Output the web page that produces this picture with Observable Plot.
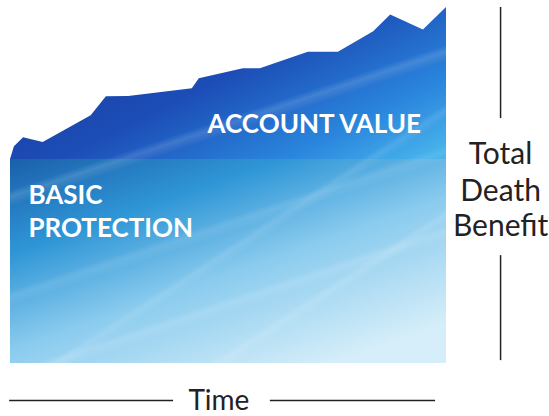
<!DOCTYPE html>
<html>
<head>
<meta charset="utf-8">
<script src="https://cdn.jsdelivr.net/npm/d3@7"></script>
<script src="https://cdn.jsdelivr.net/npm/@observablehq/plot@0.6"></script>
<style>
  html, body { margin: 0; padding: 0; background: #fff; }
  #chart { width: 549px; height: 416px; }
</style>
</head>
<body>
<div id="chart"></div>
<script>
// Time axis (0–100 %) and account value (% of max total death benefit)
const timePoints = [0, 0.9, 3.0, 7.5, 18.5, 22.0, 27.1, 41.7, 43.3, 53.4, 57.3, 68.3, 75.2, 83.3, 87.2, 94.7, 100];
const accountValue = [57.3, 60.9, 63.4, 62.1, 69.6, 74.9, 75.0, 77.2, 80.0, 82.8, 82.8, 87.4, 87.4, 93.2, 97.9, 93.7, 100];
const basicProtection = 57.3;

const areaLabels = ["ACCOUNT VALUE"];
const basicLabels = ["BASIC", "PROTECTION"];
const sideLabels = ["Total", "Death", "Benefit"];
const timeLabel = ["Time"];

const rows = timePoints.map((t, i) => ({t, base: basicProtection, av: accountValue[i]}));

const W = 549, H = 416;
const chart = Plot.plot({
  width: W, height: H,
  marginLeft: 10, marginRight: 103, marginTop: 7, marginBottom: 53,
  x: {domain: [0, 100], axis: null},
  y: {domain: [0, 100], axis: null},
  style: {background: "#fff", overflow: "visible"},
  marks: [
    Plot.areaY(rows, {x: "t", y1: 0, y2: "base", fill: "url(#gBasic)"}),
    Plot.areaY(rows, {x: "t", y1: "base", y2: "av", fill: "url(#gAV)"}),
    Plot.areaY(rows, {x: "t", y1: 0, y2: "av", fill: "url(#gStreak)"}),
    Plot.areaY(rows, {x: "t", y1: 0, y2: "av", fill: "url(#gStreak2)"}),
    Plot.text(areaLabels, {x: 45.2, y: 64.8, text: d => d, textAnchor: "start", lineAnchor: "bottom",
      fill: "#fff", fontSize: 26, fontWeight: 700, fontFamily: "Lato"}),
    Plot.text(basicLabels, {x: 4.1, y: (d, i) => [44.9, 35.4][i], text: d => d, textAnchor: "start", lineAnchor: "bottom",
      fill: "#fff", fontSize: 26, fontWeight: 700, fontFamily: "Lato"}),
    Plot.text(sideLabels, {x: 112.4, y: (d, i) => [56.1, 45.7, 35.9][i], text: d => d, textAnchor: "middle", lineAnchor: "bottom",
      fill: "#222", fontSize: 30, fontWeight: 400, fontFamily: "Lato"}),
    Plot.ruleX([112.4], {y1: 68.8, y2: 100, stroke: "#222", strokeWidth: 1.5}),
    Plot.ruleX([112.4], {y1: 0.8, y2: 30.3, stroke: "#222", strokeWidth: 1.5}),
    Plot.text(timeLabel, {x: 47.8, y: -13.2, text: d => d, textAnchor: "middle", lineAnchor: "bottom",
      fill: "#222", fontSize: 28, fontWeight: 400, fontFamily: "Lato"}),
    Plot.ruleY([-10.4], {x1: -0.2, x2: 37.4, stroke: "#222", strokeWidth: 1.5}),
    Plot.ruleY([-10.4], {x1: 59.6, x2: 97.5, stroke: "#222", strokeWidth: 1.5})
  ]
});

const svg = d3.select(chart);
const defs = svg.insert("defs", ":first-child");
function grad(id, attrs, stops) {
  const g = defs.append("linearGradient").attr("id", id);
  for (const [k, v] of Object.entries(attrs)) g.attr(k, v);
  for (const [o, c, op] of stops) g.append("stop").attr("offset", o).attr("stop-color", c).attr("stop-opacity", op ?? 1);
}
grad("gBasic", {x1: 0, y1: 0, x2: 0.75, y2: 1}, [
  [0, "#1b5fab"], [0.3, "#2f96d6"], [0.6, "#8acbee"], [1, "#d6eef9"]
]);
grad("gAV", {x1: 0, y1: 0.2, x2: 1, y2: 0.9}, [
  [0, "#173a9b"], [0.45, "#1c4db6"], [0.8, "#2a86dd"], [1, "#45b0ea"]
]);
grad("gStreak", {gradientUnits: "userSpaceOnUse", x1: 200, y1: 60, x2: 300, y2: 360}, [
  [0, "#fff", 0], [0.2, "#fff", 0], [0.22, "#fff", 0.14], [0.25, "#fff", 0],
  [0.5, "#fff", 0], [0.52, "#fff", 0.1], [0.55, "#fff", 0],
  [0.74, "#fff", 0], [0.76, "#fff", 0.12], [0.79, "#fff", 0], [1, "#fff", 0]
]);
grad("gStreak2", {gradientUnits: "userSpaceOnUse", x1: 300, y1: 100, x2: 450, y2: 330}, [
  [0, "#fff", 0], [0.3, "#fff", 0], [0.32, "#fff", 0.1], [0.35, "#fff", 0],
  [0.62, "#fff", 0], [0.64, "#fff", 0.12], [0.67, "#fff", 0], [1, "#fff", 0]
]);

document.getElementById("chart").appendChild(chart);
</script>
</body>
</html>
